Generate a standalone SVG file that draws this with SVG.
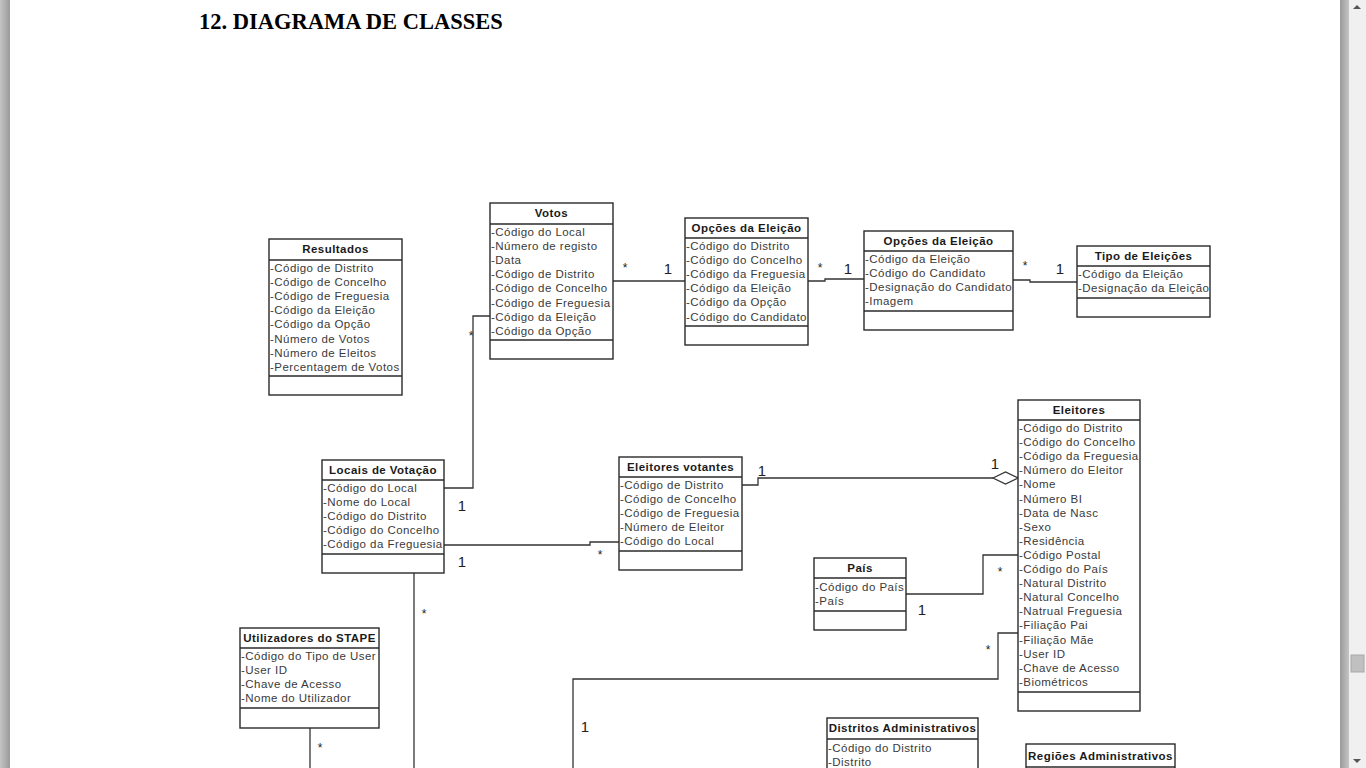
<svg xmlns="http://www.w3.org/2000/svg" width="1366" height="768" viewBox="0 0 1366 768">
<defs>
<linearGradient id="gR" x1="0" y1="0" x2="1" y2="0"><stop offset="0" stop-color="#9a9a9a"/><stop offset="1" stop-color="#c4c4c4"/></linearGradient>
<linearGradient id="gL" x1="0" y1="0" x2="1" y2="0"><stop offset="0" stop-color="#c4c4c4"/><stop offset="1" stop-color="#9a9a9a"/></linearGradient>
<style>
.box{fill:#fff;stroke:#2a2a2a;stroke-width:1.4}
.dv{stroke:#2a2a2a;stroke-width:1.4}
.hd{font-family:"Liberation Sans",Arial,sans-serif;font-size:11.5px;font-weight:bold;letter-spacing:0.45px;fill:#1a1a1a;text-anchor:middle}
.at{font-family:"Liberation Sans",Arial,sans-serif;font-size:11.5px;letter-spacing:0.45px;fill:#3a3a3a}
.cn{fill:none;stroke:#333;stroke-width:1.3}
.one{font-family:"Liberation Sans",Arial,sans-serif;font-size:15px;fill:#222;text-anchor:middle}
.st{font-family:"Liberation Sans",Arial,sans-serif;font-size:12px;fill:#222;text-anchor:middle}
</style>
</defs>
<rect x="0" y="0" width="1366" height="768" fill="#fff"/>
<rect x="0" y="0" width="10" height="768" fill="url(#gL)"/>
<rect x="1340" y="0" width="9" height="768" fill="url(#gR)"/>
<rect x="1349" y="0" width="17" height="768" fill="#f0f0f0"/>
<polygon points="1353,9 1361,9 1357,5" fill="#555"/>
<polygon points="1353,759 1361,759 1357,763" fill="#555"/>
<rect x="1351" y="655" width="13" height="17" fill="#c0c0c0" stroke="#a8a8a8" stroke-width="1"/>

<text x="199" y="29" font-family="'Liberation Serif','Times New Roman',serif" font-size="22.5" font-weight="bold" fill="#000">12. DIAGRAMA DE CLASSES</text>

<g id="connectors">
<polyline class="cn" points="613,281 685,281"/>
<polyline class="cn" points="808,281 825,281 825,279 864,279"/>
<polyline class="cn" points="1013,280 1030,280 1030,282 1077,282"/>
<polyline class="cn" points="444,488 473,488 473,316 490,316"/>
<polyline class="cn" points="444,545 590,545 590,542 619,542"/>
<polyline class="cn" points="742,485 758,485 758,478 993,478"/>
<polygon points="993,478 1005.5,472 1018,478 1005.5,484" fill="#fff" stroke="#333" stroke-width="1.3"/>
<polyline class="cn" points="906,594 983,594 983,555 1018,555"/>
<polyline class="cn" points="573,768 573,679 998,679 998,633 1018,633"/>
<polyline class="cn" points="414,573 414,768"/>
<polyline class="cn" points="310,728 310,768"/>
<text class="st" x="625" y="272">*</text><text class="one" x="668" y="274">1</text>
<text class="st" x="820" y="272">*</text><text class="one" x="848" y="274">1</text>
<text class="st" x="1025" y="270">*</text><text class="one" x="1060" y="274">1</text>
<text class="st" x="471" y="340">*</text><text class="one" x="462" y="511">1</text>
<text class="one" x="462" y="567">1</text><text class="st" x="600" y="559">*</text>
<text class="one" x="762" y="476">1</text><text class="one" x="995" y="469">1</text>
<text class="st" x="1000" y="576">*</text><text class="one" x="922" y="615">1</text>
<text class="st" x="988" y="654">*</text><text class="one" x="585" y="732">1</text>
<text class="st" x="424" y="618">*</text>
<text class="st" x="320" y="752">*</text>
</g>

<g id="resultados">
<rect class="box" x="269" y="239" width="133" height="156"/>
<line class="dv" x1="269" y1="260" x2="402" y2="260"/><line class="dv" x1="269" y1="376" x2="402" y2="376"/>
<text class="hd" x="335.5" y="253">Resultados</text>
<text class="at" x="270" y="272">-Código de Distrito</text>
<text class="at" x="270" y="286.1">-Código de Concelho</text>
<text class="at" x="270" y="300.2">-Código de Freguesia</text>
<text class="at" x="270" y="314.3">-Código da Eleição</text>
<text class="at" x="270" y="328.4">-Código da Opção</text>
<text class="at" x="270" y="342.5">-Número de Votos</text>
<text class="at" x="270" y="356.6">-Número de Eleitos</text>
<text class="at" x="270" y="370.7">-Percentagem de Votos</text>
</g>

<g id="votos">
<rect class="box" x="490" y="203" width="123" height="156"/>
<line class="dv" x1="490" y1="224" x2="613" y2="224"/><line class="dv" x1="490" y1="340" x2="613" y2="340"/>
<text class="hd" x="551.5" y="217">Votos</text>
<text class="at" x="491" y="236">-Código do Local</text>
<text class="at" x="491" y="250.1">-Número de registo</text>
<text class="at" x="491" y="264.2">-Data</text>
<text class="at" x="491" y="278.3">-Código de Distrito</text>
<text class="at" x="491" y="292.4">-Código de Concelho</text>
<text class="at" x="491" y="306.5">-Código de Freguesia</text>
<text class="at" x="491" y="320.6">-Código da Eleição</text>
<text class="at" x="491" y="334.7">-Código da Opção</text>
</g>

<g id="opcoes1">
<rect class="box" x="685" y="218" width="123" height="127"/>
<line class="dv" x1="685" y1="238" x2="808" y2="238"/><line class="dv" x1="685" y1="326" x2="808" y2="326"/>
<text class="hd" x="746.5" y="232">Opções da Eleição</text>
<text class="at" x="686" y="250">-Código do Distrito</text>
<text class="at" x="686" y="264.1">-Código do Concelho</text>
<text class="at" x="686" y="278.2">-Código da Freguesia</text>
<text class="at" x="686" y="292.3">-Código da Eleição</text>
<text class="at" x="686" y="306.4">-Código da Opção</text>
<text class="at" x="686" y="320.5">-Código do Candidato</text>
</g>

<g id="opcoes2">
<rect class="box" x="864" y="231" width="149" height="99"/>
<line class="dv" x1="864" y1="251" x2="1013" y2="251"/><line class="dv" x1="864" y1="311" x2="1013" y2="311"/>
<text class="hd" x="938.5" y="245">Opções da Eleição</text>
<text class="at" x="865" y="263">-Código da Eleição</text>
<text class="at" x="865" y="277.1">-Código do Candidato</text>
<text class="at" x="865" y="291.2">-Designação do Candidato</text>
<text class="at" x="865" y="305.3">-Imagem</text>
</g>

<g id="tipo">
<rect class="box" x="1077" y="246" width="133" height="71"/>
<line class="dv" x1="1077" y1="266" x2="1210" y2="266"/><line class="dv" x1="1077" y1="298" x2="1210" y2="298"/>
<text class="hd" x="1143.5" y="260">Tipo de Eleições</text>
<text class="at" x="1078" y="278">-Código da Eleição</text>
<text class="at" x="1078" y="292.1">-Designação da Eleição</text>
</g>

<g id="locais">
<rect class="box" x="322" y="460" width="122" height="113"/>
<line class="dv" x1="322" y1="480" x2="444" y2="480"/><line class="dv" x1="322" y1="554" x2="444" y2="554"/>
<text class="hd" x="383" y="474">Locais de Votação</text>
<text class="at" x="323" y="492">-Código do Local</text>
<text class="at" x="323" y="506.1">-Nome do Local</text>
<text class="at" x="323" y="520.2">-Código do Distrito</text>
<text class="at" x="323" y="534.3">-Código do Concelho</text>
<text class="at" x="323" y="548.4">-Código da Freguesia</text>
</g>

<g id="eleitores-votantes">
<rect class="box" x="619" y="457" width="123" height="113"/>
<line class="dv" x1="619" y1="477" x2="742" y2="477"/><line class="dv" x1="619" y1="551" x2="742" y2="551"/>
<text class="hd" x="680.5" y="471">Eleitores votantes</text>
<text class="at" x="620" y="489">-Código de Distrito</text>
<text class="at" x="620" y="503.1">-Código de Concelho</text>
<text class="at" x="620" y="517.2">-Código de Freguesia</text>
<text class="at" x="620" y="531.3">-Número de Eleitor</text>
<text class="at" x="620" y="545.4">-Código do Local</text>
</g>

<g id="eleitores">
<rect class="box" x="1018" y="400" width="122" height="311"/>
<line class="dv" x1="1018" y1="420" x2="1140" y2="420"/><line class="dv" x1="1018" y1="692" x2="1140" y2="692"/>
<text class="hd" x="1079" y="414">Eleitores</text>
<text class="at" x="1019" y="432">-Código do Distrito</text>
<text class="at" x="1019" y="446.1">-Código do Concelho</text>
<text class="at" x="1019" y="460.2">-Código da Freguesia</text>
<text class="at" x="1019" y="474.3">-Número do Eleitor</text>
<text class="at" x="1019" y="488.4">-Nome</text>
<text class="at" x="1019" y="502.5">-Número BI</text>
<text class="at" x="1019" y="516.6">-Data de Nasc</text>
<text class="at" x="1019" y="530.7">-Sexo</text>
<text class="at" x="1019" y="544.8">-Residência</text>
<text class="at" x="1019" y="558.9">-Código Postal</text>
<text class="at" x="1019" y="573">-Código do País</text>
<text class="at" x="1019" y="587.1">-Natural Distrito</text>
<text class="at" x="1019" y="601.2">-Natural Concelho</text>
<text class="at" x="1019" y="615.3">-Natrual Freguesia</text>
<text class="at" x="1019" y="629.4">-Filiação Pai</text>
<text class="at" x="1019" y="643.5">-Filiação Mãe</text>
<text class="at" x="1019" y="657.6">-User ID</text>
<text class="at" x="1019" y="671.7">-Chave de Acesso</text>
<text class="at" x="1019" y="685.8">-Biométricos</text>
</g>

<g id="pais">
<rect class="box" x="814" y="558" width="92" height="72"/>
<line class="dv" x1="814" y1="578" x2="906" y2="578"/><line class="dv" x1="814" y1="611" x2="906" y2="611"/>
<text class="hd" x="860" y="572">País</text>
<text class="at" x="815" y="591">-Código do País</text>
<text class="at" x="815" y="605.1">-País</text>
</g>

<g id="utilizadores">
<rect class="box" x="240" y="628" width="139" height="100"/>
<line class="dv" x1="240" y1="648" x2="379" y2="648"/><line class="dv" x1="240" y1="708" x2="379" y2="708"/>
<text class="hd" x="309.5" y="642">Utilizadores do STAPE</text>
<text class="at" x="241" y="660">-Código do Tipo de User</text>
<text class="at" x="241" y="674.1">-User ID</text>
<text class="at" x="241" y="688.2">-Chave de Acesso</text>
<text class="at" x="241" y="702.3">-Nome do Utilizador</text>
</g>

<g id="distritos">
<rect class="box" x="827" y="718" width="151" height="70"/>
<line class="dv" x1="827" y1="739" x2="978" y2="739"/>
<text class="hd" x="902.5" y="732">Distritos Administrativos</text>
<text class="at" x="828" y="752">-Código do Distrito</text>
<text class="at" x="828" y="766.1">-Distrito</text>
</g>

<g id="regioes">
<rect class="box" x="1026" y="744" width="149" height="50"/>
<line class="dv" x1="1026" y1="767" x2="1175" y2="767"/>
<text class="hd" x="1100.5" y="760">Regiões Administrativos</text>
</g>
</svg>
